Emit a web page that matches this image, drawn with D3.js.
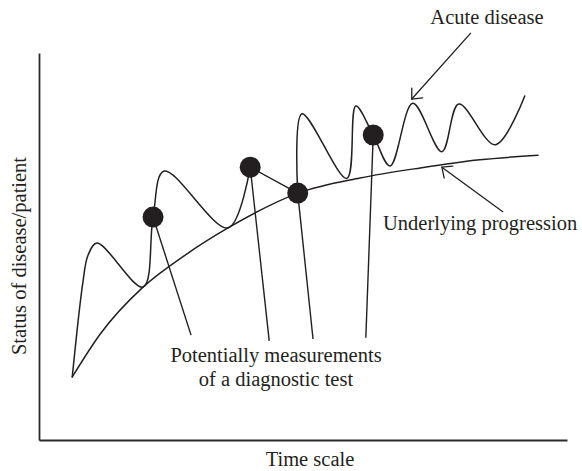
<!DOCTYPE html>
<html>
<head>
<meta charset="utf-8">
<script src="https://cdn.jsdelivr.net/npm/d3@7"></script>
<style>
  html, body { margin: 0; padding: 0; background: #fff; }
  svg { display: block; }
  text { font-family: "Liberation Serif", "Times New Roman", serif; fill: #231f20; }
</style>
</head>
<body>
<svg id="chart" width="582" height="471"></svg>
<script>
// ---- Data (time units 0-100, status units 0-100) ----
const underlyingTime   = [6.3, 11.6, 19.7, 27.7, 35.8, 49.1, 60.8, 72.2, 83.5, 94.5];
const underlyingStatus = [16.3, 27.4, 39.5, 47.8, 54.8, 63.8, 67.7, 70.3, 72.4, 73.6];

// acute disease: smooth part before the 2nd measurement
const acuteTimeA   = [6.3, 8.3, 9.3, 11.0, 19.7, 21.6, 23.7, 35.8, 40.0];
const acuteStatusA = [16.3, 40.6, 47.8, 50.9, 39.5, 57.6, 69.5, 54.8, 70.5];
// straight link between 2nd and 3rd measurement
const acuteTimeB   = [40.0, 49.0];
const acuteStatusB = [70.5, 63.8];
// smooth part after the 3rd measurement
const acuteTimeC   = [49.0, 49.8, 58.3, 60.0, 63.3, 66.5, 70.8, 76.3, 79.5, 86.4, 92.0];
const acuteStatusC = [63.8, 84.3, 67.6, 86.3, 78.8, 70.8, 87.0, 74.5, 86.8, 76.3, 88.9];

// measurements of a diagnostic test
const measureTime   = [21.6, 40.0, 49.0, 63.3];
const measureStatus = [57.6, 70.5, 63.8, 78.8];
// where each pointer line ends near the label
const pointerTime   = [28.8, 43.6, 51.9, 61.9];
const pointerStatus = [27.1, 25.6, 26.1, 26.4];

// annotation arrows [from, to]
const acuteArrowTime   = [81.8, 70.6];
const acuteArrowStatus = [105.2, 88.1];
const underArrowTime   = [87.9, 76.3];
const underArrowStatus = [58.9, 70.5];

const labels = {
  acute: "Acute disease",
  under: "Underlying progression",
  meas1: "Potentially measurements",
  meas2: "of a diagnostic test",
  xTitle: "Time scale",
  yTitle: "Status of disease/patient"
};

// ---- Drawing ----
const ink = "#231f20";
const svg = d3.select("#chart");
const x = d3.scaleLinear().domain([0, 100]).range([39, 567]);
const y = d3.scaleLinear().domain([0, 100]).range([440, 53]);

// axes (no ticks)
svg.append("g").attr("transform", `translate(0,${y(0)})`)
  .call(d3.axisBottom(x).ticks(0).tickSizeOuter(0));
svg.append("g").attr("transform", `translate(${x(0)},0)`)
  .call(d3.axisLeft(y).ticks(0).tickSizeOuter(0));
svg.selectAll(".domain").attr("stroke", "#2b2b2b").attr("stroke-width", 1.8);

const zipPts = (ts, ss) => ts.map((t, i) => [t, ss[i]]);
const monotone = d3.line().x(d => x(d[0])).y(d => y(d[1])).curve(d3.curveMonotoneX);
const smooth = d3.line().x(d => x(d[0])).y(d => y(d[1])).curve(d3.curveCatmullRom.alpha(0.5));
const straight = d3.line().x(d => x(d[0])).y(d => y(d[1]));

const lineStyle = sel => sel.attr("fill", "none").attr("stroke", ink)
  .attr("stroke-width", 1.5).attr("stroke-linejoin", "round").attr("stroke-linecap", "round");

svg.append("path").attr("d", monotone(zipPts(underlyingTime, underlyingStatus))).call(lineStyle);
svg.append("path").attr("d", smooth(zipPts(acuteTimeA, acuteStatusA))).call(lineStyle);
svg.append("path").attr("d", straight(zipPts(acuteTimeB, acuteStatusB))).call(lineStyle);
svg.append("path").attr("d", smooth(zipPts(acuteTimeC, acuteStatusC))).call(lineStyle);

// pointer lines
svg.selectAll("line.ptr").data(measureTime).join("line").attr("class", "ptr")
  .attr("x1", d => x(d)).attr("y1", (d, i) => y(measureStatus[i]))
  .attr("x2", (d, i) => x(pointerTime[i])).attr("y2", (d, i) => y(pointerStatus[i]))
  .attr("stroke", ink).attr("stroke-width", 1.4);

// dots
svg.selectAll("circle.m").data(measureTime).join("circle").attr("class", "m")
  .attr("cx", d => x(d)).attr("cy", (d, i) => y(measureStatus[i]))
  .attr("r", 10.5).attr("fill", ink);

// arrows with open heads
function arrow(ts, ss) {
  const x1 = x(ts[0]), y1 = y(ss[0]), x2 = x(ts[1]), y2 = y(ss[1]);
  svg.append("line").attr("x1", x1).attr("y1", y1).attr("x2", x2).attr("y2", y2)
    .attr("stroke", ink).attr("stroke-width", 1.3);
  const ang = Math.atan2(y1 - y2, x1 - x2);
  const len = 11, spread = Math.PI / 4.3;
  [ang - spread, ang + spread].forEach(a => {
    svg.append("line").attr("x1", x2).attr("y1", y2)
      .attr("x2", x2 + len * Math.cos(a)).attr("y2", y2 + len * Math.sin(a))
      .attr("stroke", ink).attr("stroke-width", 1.3).attr("stroke-linecap", "round");
  });
}
arrow(acuteArrowTime, acuteArrowStatus);
arrow(underArrowTime, underArrowStatus);

// texts
const fs = "20.5px";
svg.append("text").attr("x", 487).attr("y", 24).attr("text-anchor", "middle")
  .style("font-size", fs).text(labels.acute);
svg.append("text").attr("x", 383).attr("y", 230).attr("text-anchor", "start")
  .style("font-size", fs).text(labels.under);
svg.append("text").attr("x", 276).attr("y", 362).attr("text-anchor", "middle")
  .style("font-size", fs).text(labels.meas1);
svg.append("text").attr("x", 276).attr("y", 386).attr("text-anchor", "middle")
  .style("font-size", fs).text(labels.meas2);
svg.append("text").attr("x", 310).attr("y", 466).attr("text-anchor", "middle")
  .style("font-size", fs).text(labels.xTitle);
svg.append("text").attr("transform", "translate(26,256) rotate(-90)").attr("text-anchor", "middle")
  .style("font-size", fs).text(labels.yTitle);
</script>
</body>
</html>
